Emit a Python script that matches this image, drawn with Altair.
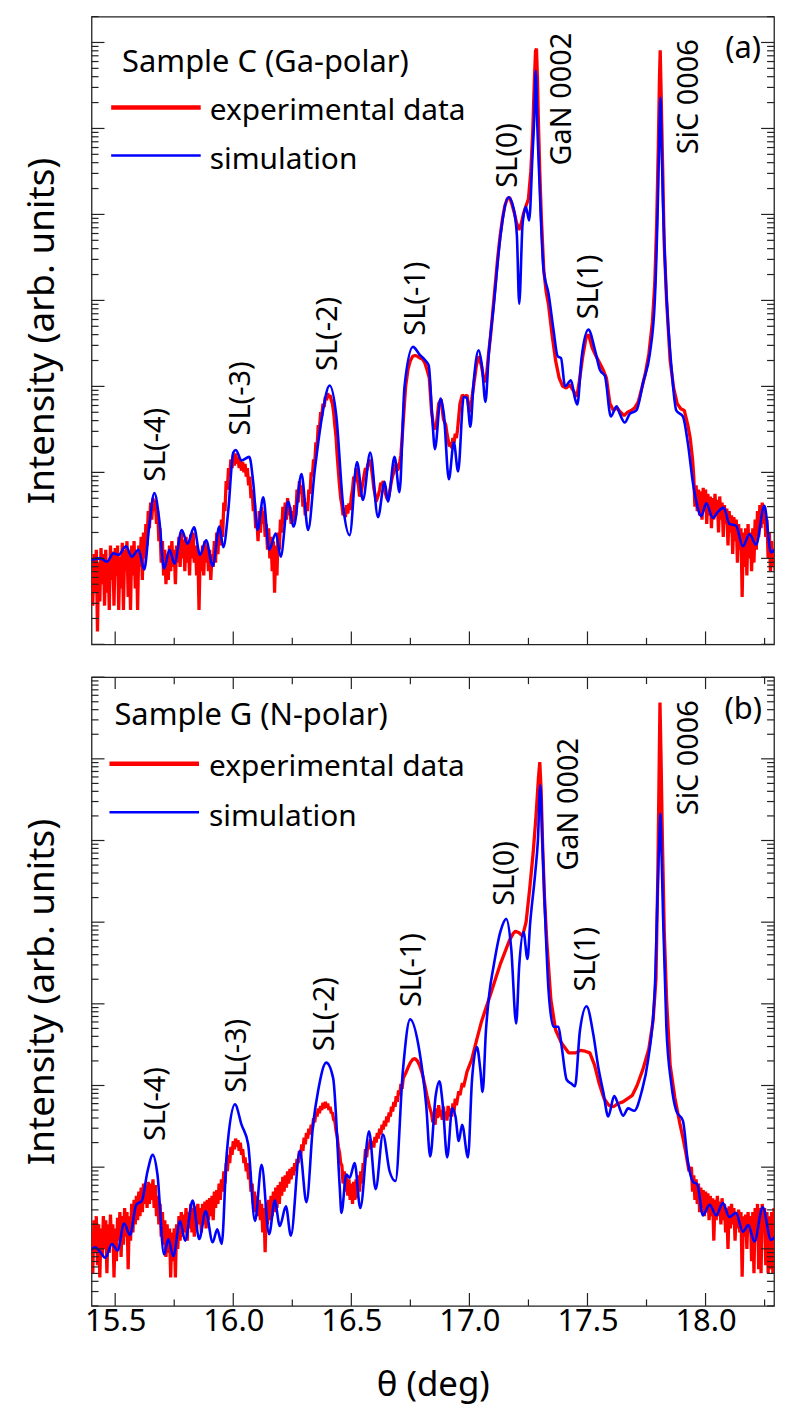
import altair as alt
import pandas as pd

FONT = "Noto Sans"
W = 686
H_A = 631
H_B = 632
RED = "#ff0000"
BLUE = "#0000ff"
FRAME = "#222222"

# ---------------- data (theta in deg, log10 of intensity) ----------------
blue_a = [
    (15.394, 0.98), (15.437, 1.00), (15.465, 0.96), (15.493, 1.06), (15.514, 1.04),
    (15.546, 1.14), (15.570, 1.02), (15.599, 1.10), (15.623, 0.87), (15.645, 1.40),
    (15.666, 1.76), (15.687, 1.44), (15.707, 0.88), (15.730, 1.10), (15.751, 0.94),
    (15.782, 1.33), (15.806, 1.17), (15.834, 1.36), (15.859, 1.04), (15.885, 1.21),
    (15.913, 0.91), (15.941, 1.37), (15.958, 1.13), (15.979, 1.56), (16.000, 2.23),
    (16.011, 2.26), (16.035, 2.14), (16.068, 2.18), (16.085, 1.87), (16.103, 1.33),
    (16.127, 1.71), (16.152, 1.10), (16.180, 1.29), (16.201, 1.02), (16.232, 1.66),
    (16.256, 1.37), (16.289, 1.98), (16.317, 1.33), (16.345, 2.02), (16.373, 2.60),
    (16.408, 3.01), (16.437, 2.64), (16.465, 1.62), (16.493, 1.27), (16.524, 2.12),
    (16.549, 1.68), (16.580, 2.23), (16.613, 1.48), (16.641, 1.89), (16.655, 1.66),
    (16.683, 2.18), (16.704, 1.77), (16.725, 2.99), (16.761, 3.46), (16.789, 3.37),
    (16.817, 3.29), (16.828, 3.24), (16.842, 2.67), (16.854, 2.27), (16.878, 2.86),
    (16.892, 2.67), (16.913, 1.92), (16.934, 2.35), (16.952, 2.01), (16.976, 2.88),
    (16.990, 2.86), (17.004, 2.53), (17.018, 3.05), (17.039, 3.42), (17.053, 3.24),
    (17.068, 2.82), (17.082, 3.38), (17.103, 3.94), (17.131, 4.74), (17.166, 5.20),
    (17.187, 5.07), (17.201, 4.76), (17.211, 3.96), (17.225, 4.88), (17.239, 5.09),
    (17.253, 4.93), (17.267, 5.68), (17.275, 6.15), (17.281, 6.67), (17.288, 6.00),
    (17.295, 5.49), (17.314, 4.36), (17.335, 4.08), (17.356, 3.66), (17.374, 3.35),
    (17.388, 3.33), (17.405, 3.00), (17.430, 3.07), (17.447, 2.86), (17.457, 2.79),
    (17.475, 3.33), (17.504, 3.66), (17.532, 3.42), (17.553, 3.19), (17.574, 3.12),
    (17.599, 2.65), (17.623, 2.77), (17.637, 2.68), (17.658, 2.58), (17.679, 2.68),
    (17.707, 2.72), (17.736, 3.05), (17.764, 3.38), (17.785, 3.99), (17.799, 5.26),
    (17.804, 5.90), (17.809, 6.36), (17.814, 5.80), (17.820, 5.12), (17.834, 4.08),
    (17.855, 3.24), (17.876, 2.72), (17.904, 2.65), (17.925, 2.34), (17.947, 1.87),
    (17.961, 1.66), (17.982, 1.49), (18.003, 1.64), (18.031, 1.47), (18.052, 1.54),
    (18.077, 1.59), (18.101, 1.40), (18.129, 1.38), (18.158, 1.14), (18.186, 1.28),
    (18.214, 1.16), (18.249, 1.61), (18.277, 1.07), (18.298, 1.12),
]

red_a = [
    (15.400, 0.85), (15.405, 0.45), (15.410, 1.05), (15.415, 0.60), (15.420, 1.10),
    (15.425, 0.15), (15.430, 0.95), (15.435, 0.50), (15.440, 1.12), (15.445, 0.70),
    (15.450, 1.05), (15.455, 0.45), (15.460, 1.10), (15.465, 0.60), (15.470, 0.98),
    (15.475, 0.40), (15.480, 1.15), (15.485, 0.75), (15.490, 1.08), (15.495, 0.45),
    (15.500, 1.12), (15.505, 0.80), (15.510, 1.15), (15.515, 0.40), (15.520, 1.02),
    (15.525, 0.65), (15.530, 1.18), (15.535, 0.40), (15.540, 1.10), (15.545, 0.85),
    (15.550, 1.20), (15.555, 0.55), (15.560, 1.05), (15.565, 0.40), (15.570, 1.15),
    (15.575, 0.80), (15.580, 1.20), (15.585, 0.65), (15.590, 1.10), (15.595, 0.40),
    (15.600, 1.15), (15.605, 0.90), (15.610, 1.25), (15.615, 0.75), (15.620, 1.30),
    (15.625, 1.00), (15.630, 1.40), (15.635, 1.15), (15.640, 1.55), (15.645, 1.35),
    (15.650, 1.65), (15.655, 1.45), (15.660, 1.70), (15.665, 1.55), (15.670, 1.68),
    (15.675, 1.40), (15.680, 1.55), (15.685, 1.20), (15.690, 1.35), (15.695, 0.95),
    (15.700, 1.20), (15.705, 0.80), (15.710, 1.10), (15.715, 0.70), (15.720, 1.05),
    (15.725, 0.75), (15.730, 1.15), (15.735, 0.85), (15.740, 1.20), (15.745, 0.90),
    (15.750, 1.10), (15.755, 0.70), (15.760, 1.15), (15.765, 0.95), (15.770, 1.25),
    (15.775, 0.90), (15.780, 1.30), (15.785, 1.00), (15.790, 1.22), (15.795, 0.85),
    (15.800, 1.25), (15.805, 0.95), (15.810, 1.18), (15.815, 0.80), (15.820, 1.28),
    (15.825, 1.00), (15.830, 1.30), (15.835, 0.95), (15.840, 1.15), (15.845, 0.80),
    (15.850, 1.10), (15.855, 0.40), (15.860, 1.05), (15.865, 0.85), (15.870, 1.15),
    (15.875, 0.80), (15.880, 1.20), (15.885, 0.95), (15.890, 1.15), (15.895, 0.85),
    (15.900, 1.10), (15.905, 0.75), (15.910, 1.05), (15.915, 0.90), (15.920, 1.20),
    (15.925, 0.95), (15.930, 1.30), (15.935, 1.05), (15.940, 1.35), (15.945, 1.15),
    (15.950, 1.45), (15.955, 1.25), (15.960, 1.65), (15.965, 1.55), (15.970, 1.90),
    (15.975, 1.80), (15.980, 2.05), (15.985, 1.95), (15.990, 2.15), (15.995, 2.05),
    (16.000, 2.20), (16.005, 2.08), (16.010, 2.22), (16.015, 2.10), (16.020, 2.18),
    (16.025, 2.05), (16.030, 2.15), (16.035, 2.02), (16.040, 2.12), (16.045, 2.00),
    (16.050, 2.10), (16.055, 1.95), (16.060, 2.05), (16.065, 1.85), (16.070, 1.95),
    (16.075, 1.70), (16.080, 1.80), (16.085, 1.55), (16.090, 1.65), (16.095, 1.35),
    (16.100, 1.45), (16.105, 1.20), (16.110, 1.55), (16.115, 1.30), (16.120, 1.60),
    (16.125, 1.40), (16.130, 1.55), (16.135, 1.25), (16.140, 1.40), (16.145, 1.10),
    (16.150, 1.35), (16.155, 1.00), (16.160, 1.25), (16.165, 0.85), (16.170, 1.20),
    (16.175, 0.60), (16.180, 1.15), (16.185, 0.80), (16.190, 1.30), (16.195, 1.10),
    (16.200, 1.45), (16.205, 1.30), (16.210, 1.60), (16.215, 1.40), (16.220, 1.65),
    (16.225, 1.45), (16.230, 1.70), (16.235, 1.50), (16.240, 1.60), (16.245, 1.40),
    (16.250, 1.55), (16.255, 1.42), (16.260, 1.62), (16.265, 1.50), (16.270, 1.80),
    (16.275, 1.65), (16.280, 1.90), (16.285, 1.75), (16.290, 1.85), (16.295, 1.60),
    (16.300, 1.70), (16.305, 1.50), (16.310, 1.65), (16.315, 1.55), (16.320, 1.80),
    (16.325, 1.75), (16.330, 2.00), (16.335, 1.95), (16.340, 2.15), (16.345, 2.10),
    (16.350, 2.35), (16.355, 2.30), (16.360, 2.55), (16.365, 2.50), (16.370, 2.70),
    (16.375, 2.66), (16.380, 2.80), (16.385, 2.76), (16.390, 2.88), (16.395, 2.84),
    (16.400, 2.92), (16.405, 2.87), (16.410, 2.90), (16.415, 2.84), (16.420, 2.80),
    (16.425, 2.70), (16.430, 2.55), (16.435, 2.42), (16.440, 2.20), (16.445, 2.02),
    (16.450, 1.85), (16.455, 1.70), (16.460, 1.62), (16.465, 1.50), (16.470, 1.58),
    (16.475, 1.48), (16.480, 1.62), (16.485, 1.52), (16.490, 1.64), (16.495, 1.56),
    (16.500, 1.72), (16.505, 1.80), (16.510, 1.95), (16.515, 1.90), (16.520, 2.05),
    (16.525, 1.92), (16.530, 1.85), (16.535, 1.72), (16.540, 1.75), (16.545, 1.82),
    (16.550, 1.90), (16.555, 1.98), (16.560, 2.05), (16.565, 2.02), (16.570, 2.10),
    (16.575, 2.08), (16.580, 2.15), (16.585, 2.05), (16.590, 1.95), (16.595, 1.82),
    (16.600, 1.75), (16.605, 1.66), (16.610, 1.70), (16.615, 1.74), (16.620, 1.80),
    (16.625, 1.88), (16.630, 1.85), (16.635, 1.90), (16.640, 1.80), (16.645, 1.75),
    (16.650, 1.70), (16.655, 1.68), (16.660, 1.75), (16.665, 1.82), (16.670, 1.90),
    (16.675, 1.96), (16.680, 2.00), (16.685, 2.06), (16.690, 2.10), (16.695, 2.02),
    (16.700, 2.05), (16.705, 2.12), (16.710, 2.20), (16.720, 2.60), (16.730, 3.00),
    (16.740, 3.20), (16.750, 3.30), (16.760, 3.35), (16.770, 3.36), (16.780, 3.35),
    (16.790, 3.33), (16.800, 3.32), (16.810, 3.28), (16.820, 3.20), (16.830, 3.10),
    (16.840, 2.70), (16.850, 2.50), (16.860, 2.55), (16.870, 2.80), (16.880, 2.85),
    (16.890, 2.62), (16.900, 2.55), (16.905, 2.45), (16.910, 2.38), (16.915, 2.30),
    (16.920, 2.35), (16.925, 2.28), (16.930, 2.40), (16.935, 2.34), (16.940, 2.45),
    (16.945, 2.40), (16.950, 2.50), (16.960, 2.80), (16.970, 2.90), (16.980, 2.88),
    (16.990, 2.90), (17.000, 2.70), (17.010, 2.85), (17.020, 3.05), (17.030, 3.25),
    (17.040, 3.35), (17.050, 3.25), (17.060, 3.10), (17.070, 3.05), (17.080, 3.35),
    (17.090, 3.60), (17.100, 3.90), (17.110, 4.20), (17.120, 4.50), (17.130, 4.75),
    (17.140, 4.95), (17.150, 5.10), (17.160, 5.18), (17.170, 5.20), (17.180, 5.12),
    (17.190, 5.02), (17.200, 4.90), (17.210, 4.82), (17.220, 4.90), (17.230, 5.02),
    (17.240, 5.10), (17.250, 5.18), (17.260, 5.50), (17.268, 5.95), (17.275, 6.55),
    (17.280, 6.90), (17.284, 6.93), (17.288, 6.60), (17.292, 6.10), (17.298, 5.50),
    (17.305, 4.95), (17.315, 4.35), (17.325, 4.10), (17.335, 3.95), (17.350, 3.60),
    (17.365, 3.30), (17.380, 3.10), (17.395, 3.00), (17.410, 2.98), (17.425, 3.02),
    (17.440, 2.95), (17.455, 2.88), (17.465, 3.05), (17.480, 3.35), (17.495, 3.58),
    (17.505, 3.60), (17.520, 3.45), (17.535, 3.36), (17.550, 3.28), (17.565, 3.20),
    (17.580, 3.10), (17.595, 2.80), (17.610, 2.72), (17.625, 2.75), (17.640, 2.70),
    (17.655, 2.66), (17.670, 2.70), (17.685, 2.72), (17.700, 2.75), (17.715, 2.82),
    (17.730, 2.98), (17.745, 3.15), (17.760, 3.38), (17.775, 3.75), (17.785, 4.20),
    (17.793, 4.90), (17.800, 5.80), (17.805, 6.60), (17.808, 6.91), (17.812, 6.40),
    (17.818, 5.60), (17.825, 4.65), (17.835, 4.00), (17.850, 3.30), (17.865, 2.98),
    (17.880, 2.80), (17.895, 2.74), (17.910, 2.72), (17.925, 2.55), (17.935, 2.40),
    (17.945, 2.15), (17.950, 1.95), (17.955, 1.60), (17.960, 1.85), (17.965, 1.55),
    (17.970, 1.80), (17.975, 1.50), (17.980, 1.78), (17.985, 1.45), (17.990, 1.82),
    (17.995, 1.55), (18.000, 1.80), (18.005, 1.40), (18.010, 1.75), (18.015, 1.50),
    (18.020, 1.72), (18.025, 1.35), (18.030, 1.70), (18.035, 1.45), (18.040, 1.75),
    (18.045, 1.50), (18.050, 1.68), (18.055, 1.30), (18.060, 1.72), (18.065, 1.45),
    (18.070, 1.65), (18.075, 1.25), (18.080, 1.62), (18.085, 1.40), (18.090, 1.58),
    (18.095, 1.15), (18.100, 1.55), (18.105, 1.30), (18.110, 1.50), (18.115, 1.05),
    (18.120, 1.48), (18.125, 1.20), (18.130, 1.45), (18.135, 0.95), (18.140, 1.40),
    (18.145, 1.10), (18.150, 1.35), (18.155, 0.55), (18.160, 1.30), (18.165, 0.90),
    (18.170, 1.35), (18.175, 0.80), (18.180, 1.40), (18.185, 1.00), (18.190, 1.30),
    (18.195, 0.85), (18.200, 1.35), (18.205, 0.95), (18.210, 1.45), (18.215, 1.10),
    (18.220, 1.55), (18.225, 1.25), (18.230, 1.62), (18.235, 1.35), (18.240, 1.65),
    (18.245, 1.40), (18.250, 1.60), (18.255, 1.25), (18.260, 1.45), (18.265, 1.00),
    (18.270, 1.30), (18.275, 0.85), (18.280, 1.20), (18.285, 0.90), (18.290, 1.10),
    (18.295, 0.85),
]

blue_b = [
    (15.394, 0.98), (15.415, 1.02), (15.437, 0.96), (15.458, 0.89), (15.486, 1.06),
    (15.510, 0.98), (15.538, 1.31), (15.563, 1.17), (15.589, 1.54), (15.613, 1.59),
    (15.637, 1.95), (15.659, 2.15), (15.679, 1.91), (15.707, 0.93), (15.725, 1.12),
    (15.746, 0.91), (15.775, 1.34), (15.796, 1.10), (15.828, 1.59), (15.856, 1.12),
    (15.883, 1.46), (15.913, 1.08), (15.932, 1.24), (15.951, 1.06), (15.972, 2.15),
    (16.007, 2.77), (16.035, 2.52), (16.063, 2.28), (16.092, 1.34), (16.120, 2.03),
    (16.152, 1.18), (16.176, 1.59), (16.197, 1.28), (16.223, 1.52), (16.244, 1.16),
    (16.282, 2.20), (16.310, 1.57), (16.338, 2.52), (16.359, 2.93), (16.394, 3.28),
    (16.423, 3.09), (16.451, 1.75), (16.458, 1.44), (16.479, 1.91), (16.493, 1.87),
    (16.514, 2.05), (16.538, 1.50), (16.575, 2.44), (16.603, 1.73), (16.634, 2.40),
    (16.662, 1.95), (16.687, 1.83), (16.718, 3.17), (16.749, 3.81), (16.789, 3.41),
    (16.817, 2.76), (16.834, 2.13), (16.857, 2.87), (16.873, 3.05), (16.887, 2.77),
    (16.906, 2.12), (16.927, 2.72), (16.941, 2.62), (16.955, 2.32), (16.969, 2.52),
    (16.994, 2.12), (17.011, 3.07), (17.032, 3.47), (17.046, 3.20), (17.056, 2.92),
    (17.070, 3.67), (17.084, 4.12), (17.103, 4.47), (17.131, 4.88), (17.156, 5.04),
    (17.177, 4.68), (17.198, 3.76), (17.211, 4.47), (17.229, 4.88), (17.246, 4.55),
    (17.257, 4.98), (17.278, 5.58), (17.290, 6.00), (17.300, 6.68), (17.309, 6.00),
    (17.318, 5.28), (17.335, 4.17), (17.356, 3.72), (17.377, 3.72), (17.391, 3.47),
    (17.412, 3.07), (17.433, 3.02), (17.447, 2.99), (17.468, 3.67), (17.496, 3.97),
    (17.525, 3.62), (17.546, 3.22), (17.567, 2.92), (17.588, 2.62), (17.613, 2.87),
    (17.630, 2.77), (17.651, 2.63), (17.672, 2.72), (17.698, 2.69), (17.729, 2.92),
    (17.757, 3.32), (17.785, 4.17), (17.799, 5.58), (17.804, 6.00), (17.809, 6.33),
    (17.814, 5.80), (17.820, 5.08), (17.834, 3.72), (17.855, 3.02), (17.876, 2.69),
    (17.904, 2.57), (17.925, 2.07), (17.947, 1.82), (17.965, 1.79), (17.989, 1.41),
    (18.017, 1.54), (18.045, 1.41), (18.073, 1.56), (18.101, 1.39), (18.129, 1.44),
    (18.158, 1.21), (18.181, 1.29), (18.207, 1.09), (18.242, 1.51), (18.277, 1.11),
    (18.298, 1.16),
]

red_b = [
    (15.400, 1.20), (15.405, 0.70), (15.410, 1.35), (15.415, 0.95), (15.420, 1.40),
    (15.425, 0.80), (15.430, 1.30), (15.435, 0.65), (15.440, 1.25), (15.445, 0.90),
    (15.450, 1.40), (15.455, 1.00), (15.460, 1.35), (15.465, 0.70), (15.470, 1.30),
    (15.475, 0.95), (15.480, 1.42), (15.485, 1.05), (15.490, 1.30), (15.495, 0.65),
    (15.500, 1.25), (15.505, 0.85), (15.510, 1.38), (15.515, 1.10), (15.520, 1.45),
    (15.525, 0.90), (15.530, 1.40), (15.535, 1.05), (15.540, 1.50), (15.545, 1.15),
    (15.550, 1.45), (15.555, 0.75), (15.560, 1.40), (15.565, 1.10), (15.570, 1.55),
    (15.575, 1.20), (15.580, 1.60), (15.585, 1.30), (15.590, 1.65), (15.595, 1.35),
    (15.600, 1.70), (15.605, 1.40), (15.610, 1.75), (15.615, 1.45), (15.620, 1.80),
    (15.625, 1.55), (15.630, 1.78), (15.635, 1.50), (15.640, 1.82), (15.645, 1.55),
    (15.650, 1.80), (15.655, 1.60), (15.660, 1.85), (15.665, 1.50), (15.670, 1.78),
    (15.675, 1.40), (15.680, 1.65), (15.685, 1.30), (15.690, 1.55), (15.695, 1.15),
    (15.700, 1.45), (15.705, 1.05), (15.710, 1.35), (15.715, 0.90), (15.720, 1.30),
    (15.725, 0.95), (15.730, 1.25), (15.735, 0.65), (15.740, 1.20), (15.745, 0.85),
    (15.750, 1.25), (15.755, 0.65), (15.760, 1.30), (15.765, 1.00), (15.770, 1.40),
    (15.775, 1.10), (15.780, 1.45), (15.785, 1.15), (15.790, 1.42), (15.795, 1.20),
    (15.800, 1.50), (15.805, 1.10), (15.810, 1.45), (15.815, 1.25), (15.820, 1.55),
    (15.825, 1.20), (15.830, 1.50), (15.835, 1.15), (15.840, 1.52), (15.845, 1.25),
    (15.850, 1.55), (15.855, 1.30), (15.860, 1.50), (15.865, 1.20), (15.870, 1.55),
    (15.875, 1.30), (15.880, 1.58), (15.885, 1.25), (15.890, 1.60), (15.895, 1.35),
    (15.900, 1.62), (15.905, 1.40), (15.910, 1.65), (15.915, 1.35), (15.920, 1.70),
    (15.925, 1.50), (15.930, 1.72), (15.935, 1.55), (15.940, 1.80), (15.945, 1.60),
    (15.950, 1.85), (15.955, 1.70), (15.960, 1.95), (15.965, 1.80), (15.970, 2.05),
    (15.975, 1.95), (15.980, 2.15), (15.985, 2.05), (15.990, 2.25), (15.995, 2.15),
    (16.000, 2.32), (16.005, 2.22), (16.010, 2.35), (16.015, 2.25), (16.020, 2.33),
    (16.025, 2.20), (16.030, 2.30), (16.035, 2.15), (16.040, 2.22), (16.045, 2.05),
    (16.050, 2.12), (16.055, 1.95), (16.060, 2.05), (16.065, 1.85), (16.070, 1.95),
    (16.075, 1.70), (16.080, 1.80), (16.085, 1.55), (16.090, 1.70), (16.095, 1.45),
    (16.100, 1.65), (16.105, 1.40), (16.110, 1.60), (16.115, 1.35), (16.120, 1.55),
    (16.125, 1.20), (16.130, 1.50), (16.135, 0.96), (16.140, 1.55), (16.145, 1.30),
    (16.150, 1.60), (16.155, 1.35), (16.160, 1.65), (16.165, 1.40), (16.170, 1.70),
    (16.175, 1.45), (16.180, 1.75), (16.185, 1.50), (16.190, 1.78), (16.195, 1.55),
    (16.200, 1.82), (16.205, 1.65), (16.210, 1.88), (16.215, 1.70), (16.220, 1.90),
    (16.225, 1.75), (16.230, 1.95), (16.235, 1.80), (16.240, 1.98), (16.245, 1.85),
    (16.250, 2.00), (16.255, 1.90), (16.260, 2.05), (16.265, 1.95), (16.270, 2.10),
    (16.275, 2.05), (16.280, 2.20), (16.285, 2.12), (16.290, 2.28), (16.295, 2.20),
    (16.300, 2.36), (16.305, 2.28), (16.310, 2.42), (16.315, 2.35), (16.320, 2.47),
    (16.325, 2.40), (16.330, 2.52), (16.335, 2.46), (16.340, 2.60), (16.345, 2.55),
    (16.350, 2.67), (16.355, 2.62), (16.360, 2.72), (16.365, 2.66), (16.370, 2.75),
    (16.375, 2.70), (16.380, 2.79), (16.385, 2.72), (16.390, 2.80), (16.395, 2.73),
    (16.400, 2.78), (16.405, 2.70), (16.410, 2.74), (16.415, 2.66), (16.420, 2.67),
    (16.425, 2.58), (16.430, 2.57), (16.435, 2.45), (16.440, 2.38), (16.445, 2.25),
    (16.450, 2.18), (16.455, 2.05), (16.460, 2.02), (16.465, 1.80), (16.470, 1.95),
    (16.475, 1.70), (16.480, 1.90), (16.485, 1.65), (16.490, 1.85), (16.495, 1.60),
    (16.500, 1.80), (16.505, 1.55), (16.510, 1.82), (16.515, 1.60), (16.520, 1.85),
    (16.525, 1.62), (16.530, 1.90), (16.535, 1.70), (16.540, 1.95), (16.545, 1.80),
    (16.550, 2.05), (16.555, 2.00), (16.560, 2.22), (16.565, 2.12), (16.570, 2.30),
    (16.575, 2.22), (16.580, 2.34), (16.585, 2.25), (16.590, 2.32), (16.595, 2.24),
    (16.600, 2.37), (16.605, 2.30), (16.610, 2.42), (16.615, 2.35), (16.620, 2.47),
    (16.625, 2.40), (16.630, 2.52), (16.635, 2.46), (16.640, 2.57), (16.645, 2.50),
    (16.650, 2.62), (16.655, 2.55), (16.660, 2.67), (16.665, 2.62), (16.670, 2.74),
    (16.675, 2.68), (16.680, 2.80), (16.685, 2.74), (16.690, 2.87), (16.695, 2.80),
    (16.700, 2.94), (16.705, 2.88), (16.710, 3.02), (16.715, 2.96), (16.720, 3.09),
    (16.730, 3.15), (16.740, 3.22), (16.750, 3.28), (16.760, 3.32), (16.770, 3.33),
    (16.780, 3.30), (16.790, 3.24), (16.800, 3.15), (16.810, 3.02), (16.820, 2.88),
    (16.830, 2.75), (16.840, 2.65), (16.845, 2.55), (16.850, 2.64), (16.855, 2.52),
    (16.860, 2.72), (16.865, 2.60), (16.870, 2.76), (16.875, 2.62), (16.880, 2.70),
    (16.885, 2.58), (16.890, 2.74), (16.895, 2.60), (16.900, 2.68), (16.905, 2.57),
    (16.910, 2.75), (16.915, 2.62), (16.920, 2.72), (16.925, 2.62), (16.930, 2.78),
    (16.935, 2.68), (16.940, 2.84), (16.945, 2.76), (16.955, 2.93), (16.960, 2.88),
    (16.970, 3.03), (16.975, 2.98), (16.990, 3.17), (17.010, 3.32), (17.030, 3.55),
    (17.050, 3.77), (17.070, 3.95), (17.090, 4.12), (17.110, 4.30), (17.130, 4.48),
    (17.150, 4.63), (17.170, 4.78), (17.185, 4.86), (17.195, 4.89), (17.210, 4.87),
    (17.225, 4.83), (17.240, 5.00), (17.255, 5.40), (17.270, 5.85), (17.282, 6.30),
    (17.292, 6.75), (17.298, 6.96), (17.304, 6.60), (17.310, 5.95), (17.318, 5.30),
    (17.328, 4.75), (17.345, 4.05), (17.365, 3.68), (17.390, 3.52), (17.420, 3.40),
    (17.450, 3.40), (17.470, 3.43), (17.490, 3.42), (17.510, 3.40), (17.530, 3.25),
    (17.550, 3.02), (17.570, 2.84), (17.590, 2.76), (17.610, 2.74), (17.630, 2.78),
    (17.650, 2.80), (17.670, 2.84), (17.690, 2.88), (17.710, 3.00), (17.735, 3.20),
    (17.760, 3.45), (17.778, 3.80), (17.790, 4.30), (17.798, 5.60), (17.804, 7.00),
    (17.807, 7.69), (17.811, 7.10), (17.817, 6.05), (17.825, 4.90), (17.835, 4.05),
    (17.850, 3.25), (17.870, 2.85), (17.890, 2.55), (17.905, 2.35), (17.915, 2.20),
    (17.930, 1.95), (17.940, 2.00), (17.945, 1.70), (17.950, 1.90), (17.955, 1.60),
    (17.960, 1.85), (17.965, 1.55), (17.970, 1.80), (17.975, 1.45), (17.980, 1.75),
    (17.985, 1.50), (17.990, 1.72), (17.995, 1.40), (18.000, 1.70), (18.005, 1.45),
    (18.010, 1.68), (18.015, 1.35), (18.020, 1.65), (18.025, 1.40), (18.030, 1.62),
    (18.035, 1.10), (18.040, 1.60), (18.045, 1.35), (18.050, 1.65), (18.055, 1.40),
    (18.060, 1.58), (18.065, 1.30), (18.070, 1.62), (18.075, 1.35), (18.080, 1.55),
    (18.085, 1.20), (18.090, 1.50), (18.095, 1.00), (18.100, 1.52), (18.105, 1.25),
    (18.110, 1.55), (18.115, 1.30), (18.120, 1.50), (18.125, 1.10), (18.130, 1.45),
    (18.135, 1.25), (18.140, 1.48), (18.145, 1.20), (18.150, 1.45), (18.155, 0.66),
    (18.160, 1.40), (18.165, 1.15), (18.170, 1.42), (18.175, 1.00), (18.180, 1.45),
    (18.185, 1.20), (18.190, 1.40), (18.195, 0.85), (18.200, 1.45), (18.205, 0.70),
    (18.210, 1.50), (18.215, 1.10), (18.220, 1.55), (18.225, 0.75), (18.230, 1.50),
    (18.235, 0.70), (18.240, 1.55), (18.245, 1.20), (18.250, 1.50), (18.255, 0.80),
    (18.260, 1.45), (18.265, 0.70), (18.270, 1.40), (18.275, 0.75), (18.280, 1.45),
    (18.285, 0.70), (18.290, 1.50), (18.295, 1.00),
]

peak_labels = ["SL(-4)", "SL(-3)", "SL(-2)", "SL(-1)", "SL(0)", "GaN 0002", "SL(1)", "SiC 0006"]
labels_a_theta = [15.671, 16.034, 16.403, 16.775, 17.163, 17.394, 17.507, 17.928]
labels_a_logI = [1.89, 2.43, 3.18, 3.59, 5.31, 5.57, 3.78, 5.70]
labels_b_theta = [15.673, 16.017, 16.389, 16.758, 17.151, 17.422, 17.492, 17.928]
labels_b_logI = [2.32, 2.91, 3.42, 3.96, 5.20, 5.63, 4.15, 6.31]

x_major = [15.5, 16.0, 16.5, 17.0, 17.5, 18.0]
x_minor = [15.75, 16.25, 16.75, 17.25, 17.75, 18.25]
X_DOMAIN = [15.40, 18.29]
YA_DOMAIN = [1, 2.0e7]
YB_DOMAIN = [2, 1.0e8]
ya_major = [10 ** k for k in range(0, 8)]
ya_minor = [m * 10 ** k for k in range(0, 8) for m in range(2, 10) if m * 10 ** k <= 2.0e7]
yb_major = [10 ** k for k in range(1, 9)]
yb_minor = [m * 10 ** k for k in range(0, 8) for m in range(2, 10) if m * 10 ** k >= 2]


def series_df(pairs):
    return pd.DataFrame({"theta": [p[0] for p in pairs], "I": [10 ** p[1] for p in pairs]})


ONE = pd.DataFrame({"k": [0]})


def panel(red, blue, lab_t, lab_l, ydom, ymaj, ymin, height, sample, tag,
          bottom_axis, top_ticks, leg):
    xs = alt.Scale(domain=X_DOMAIN, nice=False, zero=False)
    ys = alt.Scale(type="log", domain=ydom, nice=False)
    if bottom_axis:
        xaxis = alt.Axis(values=x_major, format=".1f", ticks=False, domain=False, grid=False,
                         labelFontSize=31, labelPadding=1, labelColor="black", labelFont=FONT,
                         title="θ (deg)", titleFontSize=35, titleFontWeight="normal",
                         titleFont=FONT, titleColor="black", titlePadding=31)
    else:
        xaxis = None
    yaxis = alt.Axis(ticks=False, labels=False, domain=False, grid=False,
                     title="Intensity (arb. units)", titleFontSize=37, titleFontWeight="normal",
                     titleFont=FONT, titleColor="black", titlePadding=30)
    X = alt.X("theta:Q", scale=xs, axis=xaxis)
    Y = alt.Y("I:Q", scale=ys, axis=yaxis)

    red_line = alt.Chart(series_df(red)).mark_line(
        color=RED, strokeWidth=3.3, clip=True, strokeJoin="bevel").encode(x=X, y=Y)
    blue_line = alt.Chart(series_df(blue)).mark_line(
        color=BLUE, strokeWidth=2.6, clip=True, interpolate="monotone").encode(x=X, y=Y)

    layers = [red_line, blue_line]

    # x ticks (inside, bottom)
    xmaj = pd.DataFrame({"theta": x_major})
    xmin = pd.DataFrame({"theta": x_minor})
    layers.append(alt.Chart(xmaj).mark_rule(color=FRAME, strokeWidth=1.2).encode(
        x=X, y=alt.value(height), y2=alt.value(height - 13)))
    layers.append(alt.Chart(xmin).mark_rule(color=FRAME, strokeWidth=1.2).encode(
        x=X, y=alt.value(height), y2=alt.value(height - 6.5)))
    if top_ticks:
        layers.append(alt.Chart(xmaj).mark_rule(color=FRAME, strokeWidth=1.2).encode(
            x=X, y=alt.value(0), y2=alt.value(12)))
        layers.append(alt.Chart(xmin).mark_rule(color=FRAME, strokeWidth=1.2).encode(
            x=X, y=alt.value(0), y2=alt.value(7)))
    # y ticks (inside, left and right)
    ymj = pd.DataFrame({"I": ymaj})
    ymn = pd.DataFrame({"I": ymin})
    for x0, sgn in ((0, 1), (W, -1)):
        layers.append(alt.Chart(ymj).mark_rule(color=FRAME, strokeWidth=1.2).encode(
            y=Y, x=alt.value(x0), x2=alt.value(x0 + sgn * 13)))
        layers.append(alt.Chart(ymn).mark_rule(color=FRAME, strokeWidth=1.2).encode(
            y=Y, x=alt.value(x0), x2=alt.value(x0 + sgn * 7)))

    # peak annotations
    lab = pd.DataFrame({"label": peak_labels, "theta": lab_t, "I": [10 ** v for v in lab_l]})
    layers.append(alt.Chart(lab).mark_text(
        angle=270, align="left", baseline="middle", fontSize=29, font=FONT, color="black"
    ).encode(x=X, y=Y, text="label:N"))

    # panel tag
    layers.append(alt.Chart(ONE).mark_text(
        text=tag, align="center", baseline="middle", fontSize=31, font=FONT, color="black"
    ).encode(x=alt.value(655), y=alt.value(leg["tag_y"])))

    # legend
    layers.append(alt.Chart(ONE).mark_text(
        text=sample, align="left", baseline="alphabetic", fontSize=31, font=FONT, color="black"
    ).encode(x=alt.value(leg["title_x"]), y=alt.value(leg["title_y"])))
    layers.append(alt.Chart(ONE).mark_rule(color=RED, strokeWidth=4.5).encode(
        x=alt.value(leg["line_x"]), x2=alt.value(leg["line_x"] + 90), y=alt.value(leg["red_y"])))
    layers.append(alt.Chart(ONE).mark_rule(color=BLUE, strokeWidth=2.6).encode(
        x=alt.value(leg["line_x"]), x2=alt.value(leg["line_x"] + 90), y=alt.value(leg["blue_y"])))
    layers.append(alt.Chart(ONE).mark_text(
        text="experimental data", align="left", baseline="alphabetic", fontSize=30,
        font=FONT, color="black"
    ).encode(x=alt.value(leg["text_x"]), y=alt.value(leg["red_y"] + 12.5)))
    layers.append(alt.Chart(ONE).mark_text(
        text="simulation", align="left", baseline="alphabetic", fontSize=30,
        font=FONT, color="black"
    ).encode(x=alt.value(leg["text_x"]), y=alt.value(leg["blue_y"] + 13.5)))

    return alt.layer(*layers).properties(width=W, height=height)


pa = panel(red_a, blue_a, labels_a_theta, labels_a_logI, YA_DOMAIN, ya_major, ya_minor, H_A,
           "Sample C (Ga-polar)", "(a)", False, False,
           {"title_x": 30.7, "title_y": 55.7, "line_x": 19.7, "red_y": 91.3,
            "blue_y": 139.7, "text_x": 118.7, "tag_y": 33})
pb = panel(red_b, blue_b, labels_b_theta, labels_b_logI, YB_DOMAIN, yb_major, yb_minor, H_B,
           "Sample G (N-polar)", "(b)", True, True,
           {"title_x": 23, "title_y": 48, "line_x": 18, "red_y": 87,
            "blue_y": 135.7, "text_x": 118, "tag_y": 33})

chart = alt.vconcat(pa, pb, spacing=29).properties(
    padding={"left": 15, "top": 3, "right": 5, "bottom": 5}
).configure(font=FONT).configure_view(stroke=FRAME, strokeWidth=1.3)

chart.save("out.html", embed_options={"renderer": "svg", "actions": False})
